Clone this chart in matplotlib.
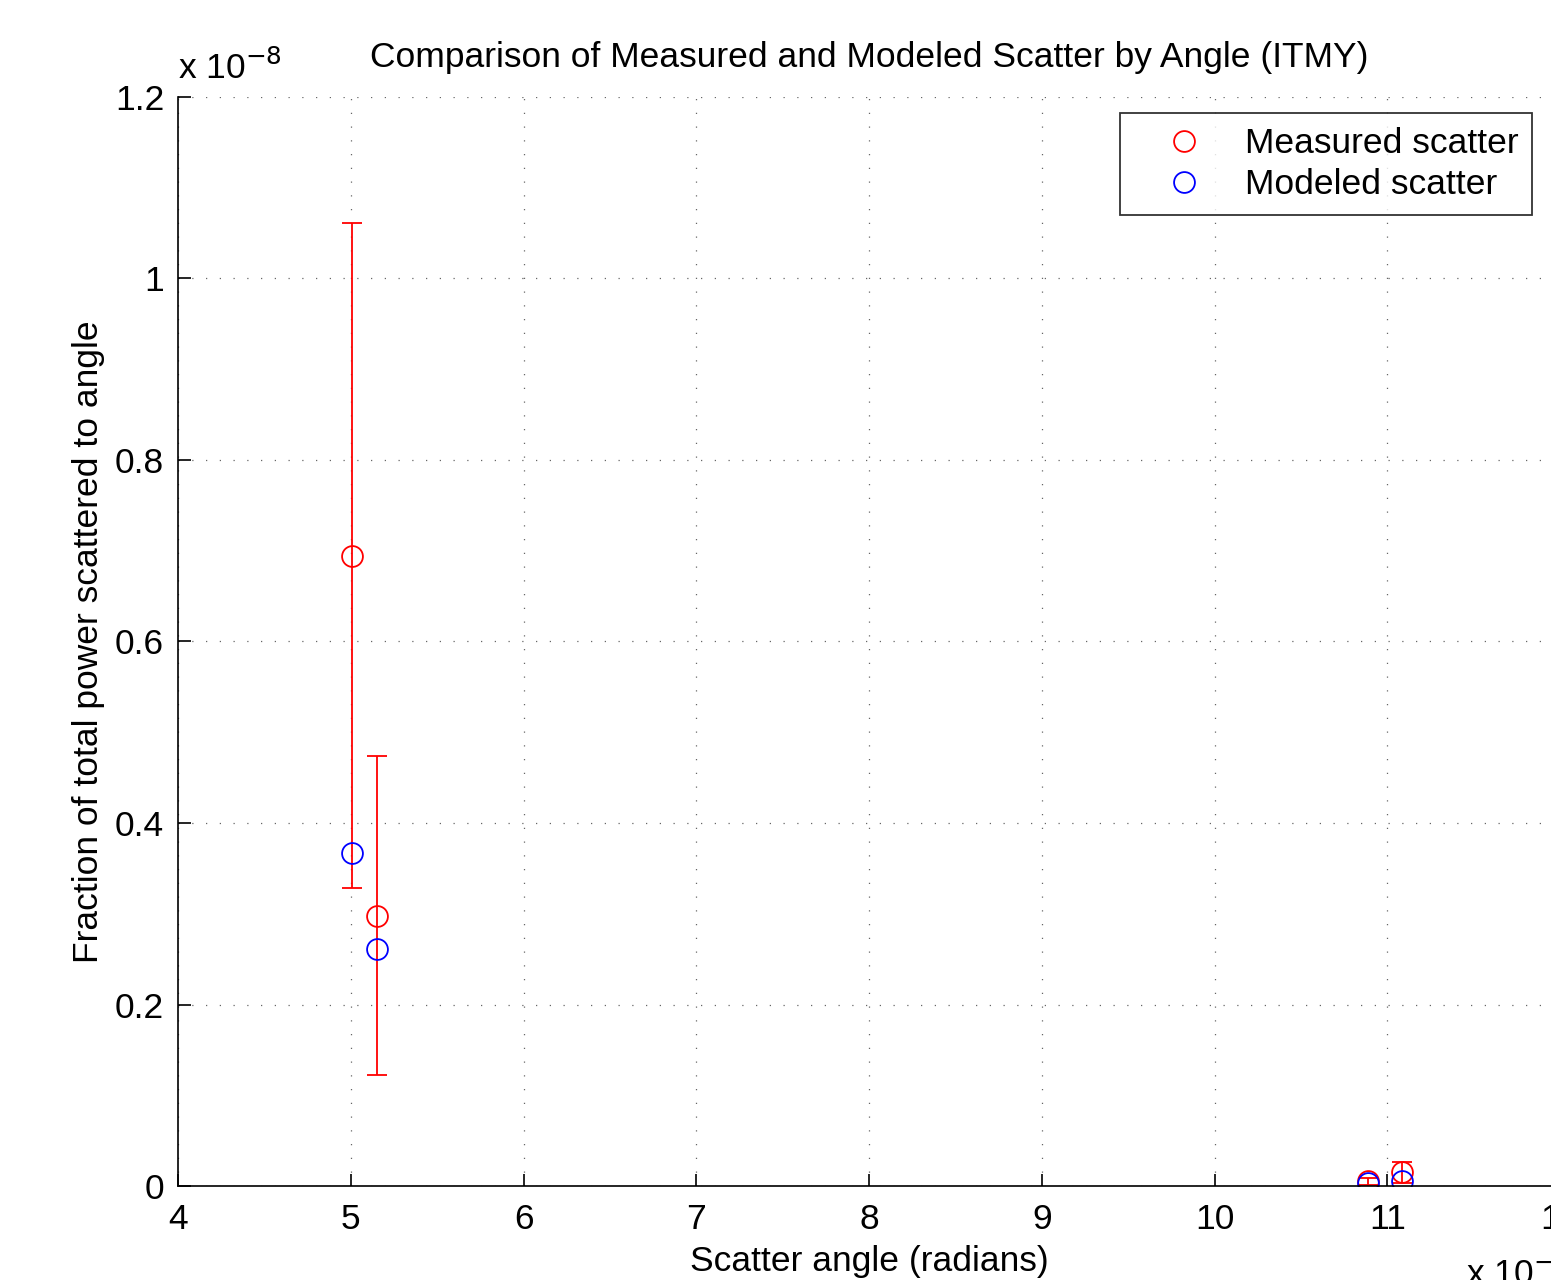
import matplotlib
matplotlib.use("Agg")
import matplotlib.pyplot as plt
from matplotlib.ticker import FuncFormatter, MultipleLocator

plt.rcParams["font.family"] = ["Liberation Sans", "DejaVu Sans"]

# scatter angles (radians) and fractions of total power
angle = [5.01e-5, 5.15e-5, 10.89e-5, 11.085e-5]
measured = [0.694e-8, 0.298e-8, 0.0055e-8, 0.0158e-8]
err_upper = [1.061e-8, 0.474e-8, 0.009e-8, 0.026e-8]
err_lower = [0.328e-8, 0.122e-8, 0.001e-8, 0.0036e-8]
modeled = [0.367e-8, 0.261e-8, 0.0036e-8, 0.0058e-8]

yerr = [[m - lo for m, lo in zip(measured, err_lower)],
        [hi - m for m, hi in zip(measured, err_upper)]]

FS = 25.5

fig = plt.figure(figsize=(15.51, 12.8), dpi=100)
# axes run past the right edge of the figure, as in the original
ax = fig.add_axes([178 / 1551, 94 / 1280, 1382 / 1551, 1089 / 1280])

ax.errorbar(angle, measured, yerr=yerr, fmt="none", ecolor="red",
            elinewidth=1.3, capsize=7, capthick=1.3)
ax.plot(angle, measured, "o", mfc="none", mec="red", ms=15, mew=1.3,
        label="Measured scatter")
ax.plot(angle, modeled, "o", mfc="none", mec="blue", ms=15, mew=1.3,
        label="Modeled scatter")

ax.set_xlim(4e-5, 12e-5)
ax.set_ylim(0, 1.2e-8)
ax.xaxis.set_major_locator(MultipleLocator(1e-5))
ax.yaxis.set_major_locator(MultipleLocator(0.2e-8))
ax.xaxis.set_major_formatter(FuncFormatter(lambda v, p: f"{round(v / 1e-5, 6):g}"))
ax.yaxis.set_major_formatter(FuncFormatter(lambda v, p: f"{round(v / 1e-8, 6):g}"))

ax.grid(True, linestyle=(0, (1, 10)), color="black", linewidth=0.9, alpha=0.6)
for s in ["top", "right"]:
    ax.spines[s].set_visible(False)
for s in ["left", "bottom"]:
    ax.spines[s].set_linewidth(1.2)
ax.tick_params(direction="in", length=9, width=1.2, labelsize=FS)
ax.tick_params(axis="x", pad=12)
ax.tick_params(axis="y", pad=10)

ax.set_xlabel("Scatter angle (radians)", fontsize=FS, labelpad=7)
ax.set_ylabel("Fraction of total power scattered to angle", fontsize=FS, labelpad=7)
fig.text(370 / 1551, 1 - 57 / 1280, "Comparison of Measured and Modeled Scatter by Angle (ITMY)",
         fontsize=FS, ha="left", va="center")

fig.text(178 / 1551, 1 - 68 / 1280, r"x 10$^{-8}$", fontsize=FS, ha="left", va="center")
fig.text(1466 / 1551, 1 - 1274 / 1280, r"x 10$^{-5}$", fontsize=FS, ha="left", va="center")

leg = fig.legend(loc="upper left", bbox_to_anchor=(1120 / 1551, 1 - 113 / 1280),
                 fontsize=FS, frameon=True, fancybox=False, edgecolor="black",
                 handlelength=2.84, handletextpad=0.28, borderpad=0.4, labelspacing=0.22,
                 numpoints=1, borderaxespad=0)
leg.get_frame().set_linewidth(1.3)

fig.savefig("out.png", dpi=100)
